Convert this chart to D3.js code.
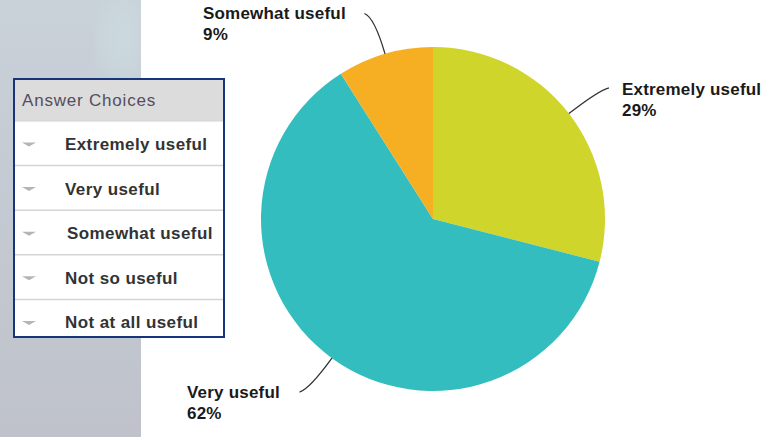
<!DOCTYPE html>
<html>
<head>
<meta charset="utf-8">
<script src="https://cdn.jsdelivr.net/npm/d3@7"></script>
<style>
  html, body { margin: 0; padding: 0; background: #ffffff; }
  svg { display: block; font-family: "Liberation Sans", Arial, sans-serif; }
</style>
</head>
<body>
<svg id="chart" width="776" height="437"></svg>
<script>
// Survey responses shown in the pie (percent of respondents)
const sliceNames  = ["Extremely useful", "Very useful", "Somewhat useful"];
const sliceValues = [29, 62, 9];
const sliceColors = ["#cfd52b", "#34bdbf", "#f6af22"];

// Answer options listed in the side table
const answerChoices = ["Extremely useful", "Very useful", "Somewhat useful", "Not so useful", "Not at all useful"];
const tableTitle = "Answer Choices";

const svg = d3.select("#chart");

// ---- textured panel on the left edge ----
const defs = svg.append("defs");
const grad = defs.append("linearGradient").attr("id", "panelGrad")
  .attr("x1", 0).attr("y1", 0).attr("x2", 0).attr("y2", 1);
grad.append("stop").attr("offset", "0%").attr("stop-color", "#c9d1d9");
grad.append("stop").attr("offset", "45%").attr("stop-color", "#c4cad3");
grad.append("stop").attr("offset", "100%").attr("stop-color", "#bfc2ca");
defs.append("filter").attr("id", "soft")
  .append("feGaussianBlur").attr("stdDeviation", 12);
defs.append("clipPath").attr("id", "panelClip")
  .append("rect").attr("x", 0).attr("y", 0).attr("width", 141).attr("height", 437);

const panel = svg.append("g").attr("clip-path", "url(#panelClip)");
panel.append("rect").attr("x", 0).attr("y", 0).attr("width", 141).attr("height", 437)
  .attr("fill", "url(#panelGrad)");
panel.append("ellipse").attr("cx", 122).attr("cy", 40).attr("rx", 22).attr("ry", 40)
  .attr("fill", "#cde0e3").attr("opacity", 0.55).attr("filter", "url(#soft)");

// ---- pie ----
const cx = 433, cy = 219, radius = 172;
const pie = d3.pie().sort(null).value(d => d.value);
const arcs = pie(sliceNames.map((n, i) => ({ name: n, value: sliceValues[i], color: sliceColors[i] })));
const arc = d3.arc().innerRadius(0).outerRadius(radius);

const pieG = svg.append("g").attr("transform", `translate(${cx},${cy})`);
pieG.selectAll("path.slice").data(arcs).join("path")
  .attr("class", "slice")
  .attr("d", arc)
  .attr("fill", d => d.data.color);

// ---- leader lines and labels ----
// label anchor spots (x, baseline of first line)
const labelSpots = {
  "Extremely useful": [622, 95],
  "Very useful": [187, 398],
  "Somewhat useful": [203, 19]
};

arcs.forEach(d => {
  const mid = (d.startAngle + d.endAngle) / 2;
  const sx = Math.sin(mid), sy = -Math.cos(mid);
  const p0 = [cx + sx * radius, cy + sy * radius];
  const c  = [cx + sx * (radius + 38), cy + sy * (radius + 38)];
  const p2 = [c[0] + Math.sign(sx) * 10, c[1] + sy * 4];
  const path = d3.path();
  path.moveTo(p0[0], p0[1]);
  path.quadraticCurveTo(c[0], c[1], p2[0], p2[1]);
  svg.append("path").attr("d", path.toString())
    .attr("fill", "none").attr("stroke", "#333333").attr("stroke-width", 1.3);

  const [lx, ly] = labelSpots[d.data.name];
  const t = svg.append("text").attr("x", lx).attr("y", ly)
    .attr("font-size", 17).attr("font-weight", "bold").attr("fill", "#1a1a1a")
    .attr("letter-spacing", 0.2);
  t.append("tspan").attr("x", lx).text(d.data.name);
  t.append("tspan").attr("x", lx).attr("dy", 21).text(d.data.value + "%");
});

// ---- answer choices table ----
const box = { x: 14, y: 79, w: 210, h: 258 };
const headerH = 42;
const rowScale = d3.scaleBand()
  .domain(answerChoices)
  .range([box.y + headerH, box.y + headerH + 5 * 44.6]);

const table = svg.append("g");
table.append("rect").attr("x", box.x).attr("y", box.y).attr("width", box.w).attr("height", box.h)
  .attr("fill", "#ffffff");
table.append("rect").attr("x", box.x).attr("y", box.y).attr("width", box.w).attr("height", headerH)
  .attr("fill", "#dcdcdc");
table.append("text").attr("x", box.x + 8).attr("y", box.y + 27)
  .attr("font-size", 17).attr("letter-spacing", 0.8).attr("fill", "#554c5e").text(tableTitle);

const rows = table.selectAll("g.row").data(answerChoices).join("g")
  .attr("class", "row")
  .attr("transform", d => `translate(0,${rowScale(d)})`);
rows.filter((d, i) => i > 0).append("line")
  .attr("x1", box.x).attr("x2", box.x + box.w).attr("y1", 0).attr("y2", 0)
  .attr("stroke", "#d4d4d4").attr("stroke-width", 1.5);
rows.append("path")
  .attr("d", `M${box.x + 8},21.5 L${box.x + 22},21.5 L${box.x + 15},25.5 Z`)
  .attr("fill", "#b4b4b4");
rows.append("text")
  .attr("x", (d, i) => i === 2 ? 67 : 65)
  .attr("y", 29)
  .attr("font-size", 17).attr("font-weight", "bold").attr("fill", "#333333")
  .attr("letter-spacing", 0.4)
  .text(d => d);

table.append("line").attr("x1", box.x).attr("x2", box.x + box.w)
  .attr("y1", box.y + headerH).attr("y2", box.y + headerH)
  .attr("stroke", "#d4d4d4").attr("stroke-width", 1);
table.append("rect").attr("x", box.x).attr("y", box.y).attr("width", box.w).attr("height", box.h)
  .attr("fill", "none").attr("stroke", "#17367a").attr("stroke-width", 2);
</script>
</body>
</html>
